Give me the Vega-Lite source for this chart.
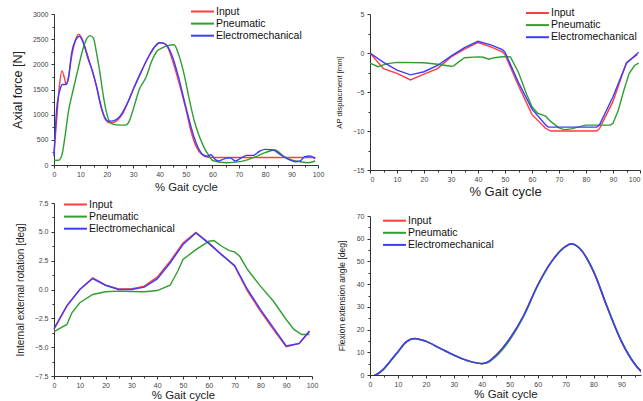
{
  "$schema": "https://vega.github.io/schema/vega-lite/v6.json",
  "padding": {"left": 11, "top": 6, "right": 0, "bottom": 0},
  "background": "white",
  "config": {
    "font": "Liberation Sans",
    "view": {"stroke": null},
    "axis": {"grid": false, "domainColor": "#333", "tickColor": "#333", "labelColor": "#444", "titleColor": "#222", "titleFontWeight": "normal", "labelFontSize": 7, "tickSize": 3, "labelPadding": 2, "labelFlush": false, "labelOverlap": false},
    "legend": {"symbolType": "M-1,0H4.1", "symbolStrokeWidth": 2, "symbolSize": 81, "labelFontSize": 10.5, "labelColor": "#111", "labelOffset": 15, "rowPadding": 1.1, "padding": 0, "title": null}
  },
  "datasets": {
    "p1": [
      {"s":"Input","x":0,"y":220},{"s":"Input","x":1,"y":900},{"s":"Input","x":2,"y":1550},{"s":"Input","x":3,"y":1870},{"s":"Input","x":4,"y":1720},{"s":"Input","x":4.6,"y":1600},{"s":"Input","x":5.5,"y":1750},{"s":"Input","x":6.5,"y":2100},{"s":"Input","x":8,"y":2460},{"s":"Input","x":9.3,"y":2600},{"s":"Input","x":10.5,"y":2520},{"s":"Input","x":12,"y":2300},{"s":"Input","x":14,"y":1950},{"s":"Input","x":16,"y":1580},{"s":"Input","x":18,"y":1110},{"s":"Input","x":19.5,"y":900},{"s":"Input","x":21,"y":840},{"s":"Input","x":22.5,"y":845},{"s":"Input","x":24,"y":890},{"s":"Input","x":26,"y":1020},{"s":"Input","x":28,"y":1250},{"s":"Input","x":30,"y":1500},{"s":"Input","x":33,"y":1850},{"s":"Input","x":36,"y":2170},{"s":"Input","x":38,"y":2340},{"s":"Input","x":40,"y":2430},{"s":"Input","x":41.5,"y":2420},{"s":"Input","x":43,"y":2340},{"s":"Input","x":45,"y":2060},{"s":"Input","x":47,"y":1700},{"s":"Input","x":50,"y":1100},{"s":"Input","x":52,"y":650},{"s":"Input","x":54,"y":350},{"s":"Input","x":56,"y":210},{"s":"Input","x":58,"y":160},{"s":"Input","x":60,"y":150},{"s":"Input","x":80,"y":150},{"s":"Input","x":99,"y":150},
      {"s":"Pneumatic","x":0,"y":90},{"s":"Pneumatic","x":1.6,"y":93},{"s":"Pneumatic","x":2.9,"y":180},{"s":"Pneumatic","x":4.2,"y":575},{"s":"Pneumatic","x":5.4,"y":1040},{"s":"Pneumatic","x":7.3,"y":1500},{"s":"Pneumatic","x":9.2,"y":1930},{"s":"Pneumatic","x":11.1,"y":2330},{"s":"Pneumatic","x":12.6,"y":2525},{"s":"Pneumatic","x":13.6,"y":2571},{"s":"Pneumatic","x":14.9,"y":2525},{"s":"Pneumatic","x":16.1,"y":2230},{"s":"Pneumatic","x":17.4,"y":1830},{"s":"Pneumatic","x":18.7,"y":1370},{"s":"Pneumatic","x":19.9,"y":1040},{"s":"Pneumatic","x":21,"y":870},{"s":"Pneumatic","x":22.4,"y":806},{"s":"Pneumatic","x":25,"y":793},{"s":"Pneumatic","x":27.2,"y":793},{"s":"Pneumatic","x":28.5,"y":872},{"s":"Pneumatic","x":30,"y":1104},{"s":"Pneumatic","x":32.3,"y":1500},{"s":"Pneumatic","x":35,"y":1760},{"s":"Pneumatic","x":37,"y":2062},{"s":"Pneumatic","x":39,"y":2260},{"s":"Pneumatic","x":41,"y":2326},{"s":"Pneumatic","x":43,"y":2373},{"s":"Pneumatic","x":45.5,"y":2390},{"s":"Pneumatic","x":47,"y":2227},{"s":"Pneumatic","x":49,"y":1864},{"s":"Pneumatic","x":51,"y":1368},{"s":"Pneumatic","x":53,"y":905},{"s":"Pneumatic","x":55,"y":575},{"s":"Pneumatic","x":57,"y":330},{"s":"Pneumatic","x":58.5,"y":200},{"s":"Pneumatic","x":60.3,"y":85},{"s":"Pneumatic","x":65.4,"y":46},{"s":"Pneumatic","x":70.5,"y":66},{"s":"Pneumatic","x":75.5,"y":145},{"s":"Pneumatic","x":79.9,"y":245},{"s":"Pneumatic","x":83.7,"y":297},{"s":"Pneumatic","x":86.9,"y":178},{"s":"Pneumatic","x":90,"y":99},{"s":"Pneumatic","x":93.2,"y":66},{"s":"Pneumatic","x":96.3,"y":46},{"s":"Pneumatic","x":98.9,"y":80},
      {"s":"Electromechanical","x":0,"y":180},{"s":"Electromechanical","x":1,"y":1100},{"s":"Electromechanical","x":2.3,"y":1500},{"s":"Electromechanical","x":3.2,"y":1600},{"s":"Electromechanical","x":4.5,"y":1600},{"s":"Electromechanical","x":5.4,"y":1700},{"s":"Electromechanical","x":6.7,"y":2230},{"s":"Electromechanical","x":8.3,"y":2490},{"s":"Electromechanical","x":9.6,"y":2558},{"s":"Electromechanical","x":11.1,"y":2425},{"s":"Electromechanical","x":13,"y":2095},{"s":"Electromechanical","x":14.2,"y":1930},{"s":"Electromechanical","x":16.1,"y":1566},{"s":"Electromechanical","x":17.7,"y":1200},{"s":"Electromechanical","x":19.3,"y":940},{"s":"Electromechanical","x":20.6,"y":872},{"s":"Electromechanical","x":21.8,"y":872},{"s":"Electromechanical","x":23.7,"y":905},{"s":"Electromechanical","x":25,"y":970},{"s":"Electromechanical","x":28,"y":1250},{"s":"Electromechanical","x":30,"y":1500},{"s":"Electromechanical","x":33,"y":1850},{"s":"Electromechanical","x":36,"y":2170},{"s":"Electromechanical","x":38,"y":2340},{"s":"Electromechanical","x":40,"y":2430},{"s":"Electromechanical","x":41.5,"y":2420},{"s":"Electromechanical","x":43,"y":2360},{"s":"Electromechanical","x":45,"y":2130},{"s":"Electromechanical","x":47,"y":1780},{"s":"Electromechanical","x":50,"y":1140},{"s":"Electromechanical","x":53,"y":560},{"s":"Electromechanical","x":55,"y":300},{"s":"Electromechanical","x":56.5,"y":200},{"s":"Electromechanical","x":58,"y":175},{"s":"Electromechanical","x":59.5,"y":205},{"s":"Electromechanical","x":61,"y":112},{"s":"Electromechanical","x":62.2,"y":80},{"s":"Electromechanical","x":64.8,"y":126},{"s":"Electromechanical","x":66.7,"y":145},{"s":"Electromechanical","x":68.6,"y":80},{"s":"Electromechanical","x":70.5,"y":126},{"s":"Electromechanical","x":73,"y":192},{"s":"Electromechanical","x":75.5,"y":192},{"s":"Electromechanical","x":78,"y":278},{"s":"Electromechanical","x":79.9,"y":310},{"s":"Electromechanical","x":83.1,"y":297},{"s":"Electromechanical","x":85.6,"y":211},{"s":"Electromechanical","x":88.8,"y":112},{"s":"Electromechanical","x":91.3,"y":66},{"s":"Electromechanical","x":93.2,"y":80},{"s":"Electromechanical","x":95,"y":165},{"s":"Electromechanical","x":97,"y":178},{"s":"Electromechanical","x":98.9,"y":126}
    ],
    "p2": [
      {"s":"Input","x":0,"y":0},{"s":"Input","x":5,"y":-2.0},{"s":"Input","x":10,"y":-2.6},{"s":"Input","x":15,"y":-3.45},{"s":"Input","x":20,"y":-2.7},{"s":"Input","x":25,"y":-2.0},{"s":"Input","x":30,"y":-0.5},{"s":"Input","x":35,"y":0.5},{"s":"Input","x":40,"y":1.35},{"s":"Input","x":45,"y":0.75},{"s":"Input","x":49,"y":0.15},{"s":"Input","x":50,"y":-0.2},{"s":"Input","x":55,"y":-4.2},{"s":"Input","x":60,"y":-7.9},{"s":"Input","x":65,"y":-9.65},{"s":"Input","x":67,"y":-10},{"s":"Input","x":84,"y":-10},{"s":"Input","x":85,"y":-9.7},{"s":"Input","x":90,"y":-6.2},{"s":"Input","x":95,"y":-1.2},{"s":"Input","x":99,"y":-0.2},
      {"s":"Pneumatic","x":0,"y":-1.3},{"s":"Pneumatic","x":3,"y":-1.75},{"s":"Pneumatic","x":6,"y":-1.4},{"s":"Pneumatic","x":10,"y":-1.2},{"s":"Pneumatic","x":20,"y":-1.25},{"s":"Pneumatic","x":25,"y":-1.45},{"s":"Pneumatic","x":30,"y":-1.7},{"s":"Pneumatic","x":31,"y":-1.65},{"s":"Pneumatic","x":33,"y":-1.1},{"s":"Pneumatic","x":35,"y":-0.6},{"s":"Pneumatic","x":40,"y":-0.5},{"s":"Pneumatic","x":42,"y":-0.55},{"s":"Pneumatic","x":44,"y":-0.8},{"s":"Pneumatic","x":46,"y":-0.6},{"s":"Pneumatic","x":50,"y":-0.45},{"s":"Pneumatic","x":52,"y":-0.5},{"s":"Pneumatic","x":55,"y":-2.5},{"s":"Pneumatic","x":58,"y":-5.3},{"s":"Pneumatic","x":60,"y":-6.9},{"s":"Pneumatic","x":62,"y":-7.7},{"s":"Pneumatic","x":65,"y":-8.1},{"s":"Pneumatic","x":67,"y":-8.8},{"s":"Pneumatic","x":70,"y":-9.6},{"s":"Pneumatic","x":72,"y":-9.85},{"s":"Pneumatic","x":75,"y":-9.7},{"s":"Pneumatic","x":78,"y":-9.4},{"s":"Pneumatic","x":80,"y":-9.25},{"s":"Pneumatic","x":89,"y":-9.25},{"s":"Pneumatic","x":90,"y":-9.0},{"s":"Pneumatic","x":92,"y":-7.3},{"s":"Pneumatic","x":94,"y":-4.8},{"s":"Pneumatic","x":96,"y":-2.6},{"s":"Pneumatic","x":98,"y":-1.6},{"s":"Pneumatic","x":99.5,"y":-1.3},
      {"s":"Electromechanical","x":0,"y":0},{"s":"Electromechanical","x":5,"y":-1.2},{"s":"Electromechanical","x":10,"y":-2.2},{"s":"Electromechanical","x":15,"y":-2.8},{"s":"Electromechanical","x":20,"y":-2.4},{"s":"Electromechanical","x":25,"y":-1.6},{"s":"Electromechanical","x":30,"y":-0.4},{"s":"Electromechanical","x":35,"y":0.7},{"s":"Electromechanical","x":40,"y":1.5},{"s":"Electromechanical","x":45,"y":1.0},{"s":"Electromechanical","x":49,"y":0.45},{"s":"Electromechanical","x":50,"y":0.1},{"s":"Electromechanical","x":55,"y":-3.8},{"s":"Electromechanical","x":60,"y":-7.2},{"s":"Electromechanical","x":65,"y":-9.2},{"s":"Electromechanical","x":66,"y":-9.5},{"s":"Electromechanical","x":84,"y":-9.5},{"s":"Electromechanical","x":85,"y":-9.2},{"s":"Electromechanical","x":90,"y":-5.6},{"s":"Electromechanical","x":95,"y":-1.3},{"s":"Electromechanical","x":99.5,"y":0.1}
    ],
    "p3": [
      {"s":"Input","x":0,"y":-3.46},{"s":"Input","x":5,"y":-1.44},{"s":"Input","x":10,"y":0},{"s":"Input","x":15,"y":1.0},{"s":"Input","x":20,"y":0.37},{"s":"Input","x":25,"y":0.05},{"s":"Input","x":30,"y":0.05},{"s":"Input","x":35,"y":0.29},{"s":"Input","x":40,"y":1.07},{"s":"Input","x":45,"y":2.45},{"s":"Input","x":50,"y":4.04},{"s":"Input","x":55,"y":4.96},{"s":"Input","x":60,"y":4.04},{"s":"Input","x":65,"y":3.03},{"s":"Input","x":70,"y":2.02},{"s":"Input","x":75,"y":-0.14},{"s":"Input","x":80,"y":-1.87},{"s":"Input","x":85,"y":-3.46},{"s":"Input","x":90,"y":-4.96},{"s":"Input","x":95,"y":-4.7},{"s":"Input","x":99,"y":-3.66},
      {"s":"Pneumatic","x":0,"y":-3.66},{"s":"Pneumatic","x":5,"y":-3.03},{"s":"Pneumatic","x":7,"y":-2.0},{"s":"Pneumatic","x":10,"y":-1.15},{"s":"Pneumatic","x":15,"y":-0.43},{"s":"Pneumatic","x":20,"y":-0.2},{"s":"Pneumatic","x":25,"y":-0.14},{"s":"Pneumatic","x":30,"y":-0.17},{"s":"Pneumatic","x":35,"y":-0.2},{"s":"Pneumatic","x":40,"y":-0.09},{"s":"Pneumatic","x":45,"y":0.37},{"s":"Pneumatic","x":48,"y":1.6},{"s":"Pneumatic","x":50,"y":2.6},{"s":"Pneumatic","x":55,"y":3.46},{"s":"Pneumatic","x":60,"y":4.18},{"s":"Pneumatic","x":62,"y":4.24},{"s":"Pneumatic","x":65,"y":3.75},{"s":"Pneumatic","x":68,"y":3.37},{"s":"Pneumatic","x":70,"y":3.26},{"s":"Pneumatic","x":72,"y":2.88},{"s":"Pneumatic","x":75,"y":1.73},{"s":"Pneumatic","x":80,"y":0.29},{"s":"Pneumatic","x":85,"y":-1.0},{"s":"Pneumatic","x":90,"y":-2.6},{"s":"Pneumatic","x":93,"y":-3.46},{"s":"Pneumatic","x":96,"y":-3.9},{"s":"Pneumatic","x":99,"y":-3.9},
      {"s":"Electromechanical","x":0,"y":-3.4},{"s":"Electromechanical","x":5,"y":-1.39},{"s":"Electromechanical","x":10,"y":0},{"s":"Electromechanical","x":15,"y":0.95},{"s":"Electromechanical","x":20,"y":0.37},{"s":"Electromechanical","x":25,"y":0},{"s":"Electromechanical","x":30,"y":0},{"s":"Electromechanical","x":35,"y":0.2},{"s":"Electromechanical","x":40,"y":0.92},{"s":"Electromechanical","x":45,"y":2.3},{"s":"Electromechanical","x":50,"y":3.9},{"s":"Electromechanical","x":55,"y":4.9},{"s":"Electromechanical","x":60,"y":4.0},{"s":"Electromechanical","x":65,"y":3.0},{"s":"Electromechanical","x":70,"y":2.08},{"s":"Electromechanical","x":75,"y":0},{"s":"Electromechanical","x":80,"y":-1.73},{"s":"Electromechanical","x":85,"y":-3.3},{"s":"Electromechanical","x":90,"y":-4.9},{"s":"Electromechanical","x":95,"y":-4.67},{"s":"Electromechanical","x":99,"y":-3.6}
    ],
    "p4": [
      {"s":"Input","x":0,"y":-0.8},{"s":"Input","x":2,"y":0},{"s":"Input","x":5,"y":2.9},{"s":"Input","x":8,"y":7.3},{"s":"Input","x":10,"y":10.3},{"s":"Input","x":13,"y":14.7},{"s":"Input","x":16,"y":16.1},{"s":"Input","x":20,"y":14.9},{"s":"Input","x":25,"y":11.8},{"s":"Input","x":30,"y":8.8},{"s":"Input","x":35,"y":6.3},{"s":"Input","x":40,"y":5.0},{"s":"Input","x":42,"y":5.6},{"s":"Input","x":45,"y":8.6},{"s":"Input","x":50,"y":16.0},{"s":"Input","x":55,"y":26.2},{"s":"Input","x":60,"y":39.5},{"s":"Input","x":65,"y":50},{"s":"Input","x":70,"y":56.6},{"s":"Input","x":72,"y":57.8},{"s":"Input","x":75,"y":55.8},{"s":"Input","x":80,"y":45.5},{"s":"Input","x":85,"y":29.5},{"s":"Input","x":90,"y":14.7},{"s":"Input","x":95,"y":4.4},{"s":"Input","x":97,"y":1.6},{"s":"Input","x":100,"y":-0.8},
      {"s":"Pneumatic","x":0,"y":-0.8},{"s":"Pneumatic","x":2.2,"y":0},{"s":"Pneumatic","x":5,"y":2.6},{"s":"Pneumatic","x":8,"y":7.0},{"s":"Pneumatic","x":10,"y":10.0},{"s":"Pneumatic","x":13,"y":14.5},{"s":"Pneumatic","x":16,"y":16.0},{"s":"Pneumatic","x":20,"y":14.8},{"s":"Pneumatic","x":25,"y":11.7},{"s":"Pneumatic","x":30,"y":8.7},{"s":"Pneumatic","x":35,"y":6.3},{"s":"Pneumatic","x":40,"y":5.1},{"s":"Pneumatic","x":42,"y":5.4},{"s":"Pneumatic","x":45,"y":8.1},{"s":"Pneumatic","x":50,"y":15.4},{"s":"Pneumatic","x":55,"y":25.8},{"s":"Pneumatic","x":60,"y":39.2},{"s":"Pneumatic","x":65,"y":49.8},{"s":"Pneumatic","x":70,"y":56.5},{"s":"Pneumatic","x":72,"y":57.7},{"s":"Pneumatic","x":75,"y":55.9},{"s":"Pneumatic","x":80,"y":45.9},{"s":"Pneumatic","x":85,"y":29.9},{"s":"Pneumatic","x":90,"y":15.0},{"s":"Pneumatic","x":95,"y":4.6},{"s":"Pneumatic","x":97,"y":1.8},{"s":"Pneumatic","x":100,"y":-0.8},
      {"s":"Electromechanical","x":0,"y":-0.8},{"s":"Electromechanical","x":2,"y":0},{"s":"Electromechanical","x":5,"y":2.9},{"s":"Electromechanical","x":8,"y":7.3},{"s":"Electromechanical","x":10,"y":10.3},{"s":"Electromechanical","x":13,"y":14.7},{"s":"Electromechanical","x":16,"y":16.1},{"s":"Electromechanical","x":20,"y":14.9},{"s":"Electromechanical","x":25,"y":11.8},{"s":"Electromechanical","x":30,"y":8.8},{"s":"Electromechanical","x":35,"y":6.3},{"s":"Electromechanical","x":40,"y":5.0},{"s":"Electromechanical","x":42,"y":5.6},{"s":"Electromechanical","x":45,"y":8.6},{"s":"Electromechanical","x":50,"y":16.0},{"s":"Electromechanical","x":55,"y":26.2},{"s":"Electromechanical","x":60,"y":39.5},{"s":"Electromechanical","x":65,"y":50},{"s":"Electromechanical","x":70,"y":56.6},{"s":"Electromechanical","x":72,"y":57.8},{"s":"Electromechanical","x":75,"y":55.8},{"s":"Electromechanical","x":80,"y":45.5},{"s":"Electromechanical","x":85,"y":29.5},{"s":"Electromechanical","x":90,"y":14.7},{"s":"Electromechanical","x":95,"y":4.4},{"s":"Electromechanical","x":97,"y":1.6},{"s":"Electromechanical","x":100,"y":-0.8}
    ]
  },
  "spacing": 316,
  "bounds": "flush",
  "resolve": {"scale": {"color": "independent"}, "legend": {"color": "independent"}},
  "hconcat": [
    {
      "spacing": 38,
      "bounds": "flush",
      "resolve": {"scale": {"color": "independent"}, "legend": {"color": "independent"}},
      "vconcat": [
        {
          "width": 264, "height": 151,
          "data": {"name": "p1"},
          "mark": {"type": "line", "interpolate": "monotone", "strokeWidth": 1.4},
          "encoding": {
            "x": {"field": "x", "type": "quantitative", "scale": {"domain": [0, 100], "nice": false},
              "axis": {"title": "% Gait cycle", "titleFontSize": 11.3, "titlePadding": 4, "values": [0,5,10,15,20,25,30,35,40,45,50,55,60,65,70,75,80,85,90,95,100], "labelExpr": "datum.value % 10 === 0 ? datum.label : ''", "tickSize": {"condition": {"test": "datum.value % 10 === 0", "value": 3}, "value": 2}}},
            "y": {"field": "y", "type": "quantitative", "scale": {"domain": [0, 3000], "nice": false},
              "axis": {"title": "Axial force [N]", "titleFontSize": 12.5, "titlePadding": 8, "labelPadding": 3, "values": [0,250,500,750,1000,1250,1500,1750,2000,2250,2500,2750,3000], "labelExpr": "datum.value % 500 === 0 ? datum.label : ''", "format": "d", "tickSize": {"condition": {"test": "datum.value % 500 === 0", "value": 3}, "value": 2}}},
            "color": {"field": "s", "type": "nominal", "scale": {"domain": ["Input", "Pneumatic", "Electromechanical"], "range": ["#ff3c3c", "#2f9f2f", "#3c3cff"]},
              "legend": {"orient": "none", "legendX": 136, "legendY": -8}}
          }
        },
        {
          "width": 258, "height": 173,
          "data": {"name": "p3"},
          "mark": {"type": "line", "strokeWidth": 1.4},
          "encoding": {
            "x": {"field": "x", "type": "quantitative", "scale": {"domain": [0, 100], "nice": false},
              "axis": {"title": "% Gait cycle", "titleFontSize": 11.4, "titlePadding": 1, "values": [0,5,10,15,20,25,30,35,40,45,50,55,60,65,70,75,80,85,90,95,100], "labelExpr": "datum.value % 10 === 0 ? datum.label : ''", "tickSize": {"condition": {"test": "datum.value % 10 === 0", "value": 3}, "value": 2}}},
            "y": {"field": "y", "type": "quantitative", "scale": {"domain": [-7.5, 7.5], "nice": false},
              "axis": {"title": "Internal external rotation [deg]", "titleFontSize": 10, "titlePadding": 9, "labelPadding": 3, "values": [-7.5,-6.25,-5,-3.75,-2.5,-1.25,0,1.25,2.5,3.75,5,6.25,7.5], "labelExpr": "abs(datum.value % 2.5) < 0.01 ? format(datum.value, '.1f') : ''", "tickSize": {"condition": {"test": "abs(datum.value % 2.5) < 0.01", "value": 3}, "value": 2}}},
            "color": {"field": "s", "type": "nominal", "scale": {"domain": ["Input", "Pneumatic", "Electromechanical"], "range": ["#ff3c3c", "#2f9f2f", "#3c3cff"]},
              "legend": {"orient": "none", "legendX": 9, "legendY": -4}}
          }
        }
      ]
    },
    {
      "spacing": 46,
      "bounds": "flush",
      "resolve": {"scale": {"color": "independent"}, "legend": {"color": "independent"}},
      "vconcat": [
        {
          "width": 270, "height": 156,
          "data": {"name": "p2"},
          "mark": {"type": "line", "strokeWidth": 1.4},
          "encoding": {
            "x": {"field": "x", "type": "quantitative", "scale": {"domain": [0, 100], "nice": false},
              "axis": {"title": "% Gait cycle", "titleFontSize": 13, "titlePadding": 3, "labelFlush": true, "values": [0,5,10,15,20,25,30,35,40,45,50,55,60,65,70,75,80,85,90,95,100], "labelExpr": "datum.value % 10 === 0 ? datum.label : ''", "tickSize": {"condition": {"test": "datum.value % 10 === 0", "value": 3}, "value": 2}}},
            "y": {"field": "y", "type": "quantitative", "scale": {"domain": [-15, 5], "nice": false},
              "axis": {"title": "AP displacment [mm]", "titleFontSize": 7.7, "titlePadding": 9, "labelPadding": 3, "values": [-15,-12.5,-10,-7.5,-5,-2.5,0,2.5,5], "labelExpr": "datum.value % 5 === 0 ? datum.label : ''", "tickSize": {"condition": {"test": "datum.value % 5 === 0", "value": 3}, "value": 2}}},
            "color": {"field": "s", "type": "nominal", "scale": {"domain": ["Input", "Pneumatic", "Electromechanical"], "range": ["#ff3c3c", "#2f9f2f", "#3c3cff"]},
              "legend": {"orient": "none", "legendX": 155, "legendY": -6.5}}
          }
        },
        {
          "width": 271, "height": 159,
          "data": {"name": "p4"},
          "mark": {"type": "line", "interpolate": "monotone", "strokeWidth": 1.5, "clip": true},
          "encoding": {
            "x": {"field": "x", "type": "quantitative", "scale": {"domain": [0, 97], "nice": false},
              "axis": {"title": "% Gait cycle", "titleFontSize": 11.4, "titlePadding": 1, "values": [0,5,10,15,20,25,30,35,40,45,50,55,60,65,70,75,80,85,90,95], "labelExpr": "datum.value % 10 === 0 ? datum.label : ''", "tickSize": {"condition": {"test": "datum.value % 10 === 0", "value": 3}, "value": 2}}},
            "y": {"field": "y", "type": "quantitative", "scale": {"domain": [0, 70], "nice": false},
              "axis": {"title": "Flexion extension angle [deg]", "titleFontSize": 8.5, "titlePadding": 10, "labelPadding": 3, "values": [0,5,10,15,20,25,30,35,40,45,50,55,60,65,70], "labelExpr": "datum.value % 10 === 0 ? datum.label : ''", "tickSize": {"condition": {"test": "datum.value % 10 === 0", "value": 3}, "value": 2}}},
            "color": {"field": "s", "type": "nominal", "scale": {"domain": ["Input", "Pneumatic", "Electromechanical"], "range": ["#ff3c3c", "#2f9f2f", "#3c3cff"]},
              "legend": {"orient": "none", "legendX": 12, "legendY": -0.8}}
          }
        }
      ]
    }
  ]
}
